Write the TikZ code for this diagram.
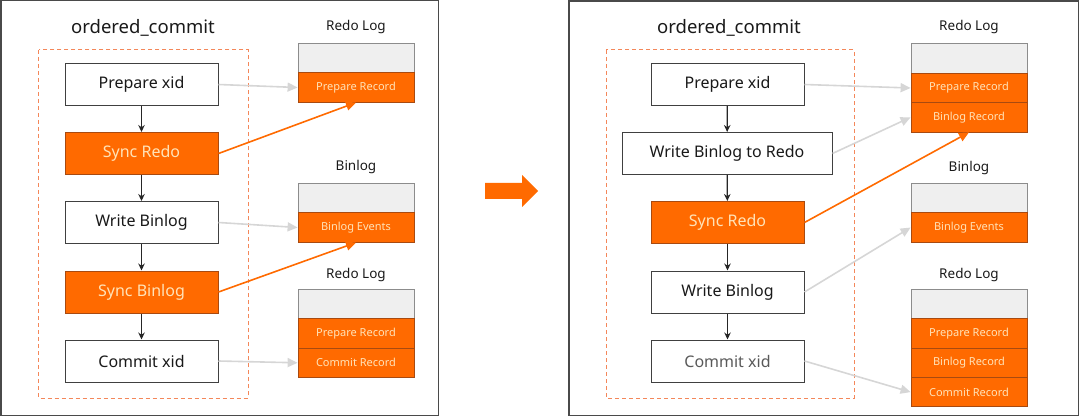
\documentclass[tikz,border=0pt]{standalone}
\usepackage{fontspec}
\setmainfont{Noto Sans}
\usetikzlibrary{arrows.meta}
\definecolor{ali}{HTML}{FF6A00}
\definecolor{aliedge}{HTML}{A84A10}
\definecolor{cream}{HTML}{FFE3B8}
\definecolor{lgray}{HTML}{EFEFEF}
\definecolor{cgray}{HTML}{D6D6D6}
\definecolor{dashc}{HTML}{F4875A}
\definecolor{framec}{HTML}{4A4A4A}
\begin{document}
\begin{tikzpicture}[x=1pt,y=-1pt,
 stepbox/.style={draw=black!75, line width=1pt, fill=white, minimum width=153pt, minimum height=42pt, inner sep=0pt, font=\fontsize{16}{18}\selectfont, text=black!90},
 hot/.style={stepbox, fill=ali, draw=aliedge, text=cream},
 cell/.style={draw=aliedge, fill=ali, line width=0.8pt, minimum width=116pt, minimum height=29.3pt, inner sep=0pt, text=cream, font=\fontsize{11}{13}\selectfont},
 headcell/.style={draw=black!45, fill=lgray, line width=0.8pt, minimum width=116pt, minimum height=29.3pt, inner sep=0pt},
 logtitle/.style={font=\fontsize{13.5}{15}\selectfont, text=black!90},
 maintitle/.style={font=\fontsize{18.5}{21}\selectfont, text=black!90},
 flow/.style={-{Stealth[length=7pt,width=6.5pt]}, line width=1.2pt, black!85},
 ghost/.style={-{Triangle[length=10pt,width=9pt]}, line width=1.6pt, cgray},
 sync/.style={-{Triangle[length=10pt,width=9pt]}, line width=1.6pt, ali},
 dashbox/.style={draw=dashc, line width=1pt, dash pattern=on 4pt off 3pt},
 panel/.style={draw=framec, line width=1.5pt}
]
\useasboundingbox (0,0) rectangle (1080,417);

% ---------- left panel ----------
\draw[panel] (0.75,0.75) rectangle (438.5,415.5);
\node[maintitle] (t1) at (143,28) {ordered\_commit};
\draw[dashbox] (38.7,50) rectangle (248,398);

\node[stepbox] (px1) at (141.5,84.5) {Prepare xid};
\node[hot] (sr1) at (141.5,153.5) {Sync Redo};
\node[stepbox] (wb1) at (141.5,222.5) {Write Binlog};
\node[hot] (sb1) at (141.5,292) {Sync Binlog};
\node[stepbox] (cx1) at (141.5,361) {Commit xid};

\draw[flow] (px1) -- (sr1);
\draw[flow] (sr1) -- (wb1);
\draw[flow] (wb1) -- (sb1);
\draw[flow] (sb1) -- (cx1);

\node[logtitle] (lt1a) at (356,27) {Redo Log};
\node[headcell] (h1a) at (356,58.5) {};
\node[cell] (pr1a) at (356,87.5) {Prepare Record};

\node[logtitle] (lt1b) at (356,167) {Binlog};
\node[headcell] (h1b) at (356,198) {};
\node[cell] (be1b) at (356,227.5) {Binlog Events};

\node[logtitle] (lt1c) at (356,275) {Redo Log};
\node[headcell] (h1c) at (356,304.5) {};
\node[cell] (pr1c) at (356,333.5) {Prepare Record};
\node[cell] (cr1c) at (356,362.8) {Commit Record};

\draw[ghost] (px1.east) -- (pr1a.west);
\draw[sync] (sr1.east) -- (pr1a.south);
\draw[ghost] (wb1.east) -- (be1b.west);
\draw[sync] (sb1.east) -- (be1b.south);
\draw[ghost] (cx1.east) -- (cr1c.west);

% ---------- middle arrow ----------
\fill[ali] (485,183) -- (522,183) -- (522,175) -- (538,191) -- (522,207) -- (522,199) -- (485,199) -- cycle;

% ---------- right panel ----------
\draw[panel] (569,1) rectangle (1078.5,415.5);
\node[maintitle] (t2) at (729,28) {ordered\_commit};
\draw[dashbox] (606,50) rectangle (854,398);

\node[stepbox] (px2) at (727.5,84.5) {Prepare xid};
\node[stepbox, minimum width=210pt] (wr2) at (727,153.5) {Write Binlog to Redo};
\node[hot] (sr2) at (727.5,222.5) {Sync Redo};
\node[stepbox] (wb2) at (727.5,292) {Write Binlog};
\node[stepbox, text=black!65] (cx2) at (727.5,361) {Commit xid};

\draw[flow] (px2) -- (wr2);
\draw[flow] (wr2) -- (sr2);
\draw[flow] (sr2) -- (wb2);
\draw[flow] (wb2) -- (cx2);

\node[logtitle] (lt2a) at (969,27) {Redo Log};
\node[headcell] (h2a) at (969,58.5) {};
\node[cell] (pr2a) at (969,88) {Prepare Record};
\node[cell] (br2a) at (969,117.3) {Binlog Record};

\node[logtitle] (lt2b) at (969,168) {Binlog};
\node[headcell] (h2b) at (969,198) {};
\node[cell] (be2b) at (969,227.5) {Binlog Events};

\node[logtitle] (lt2c) at (969,275) {Redo Log};
\node[headcell] (h2c) at (969,304.5) {};
\node[cell] (pr2c) at (969,333.5) {Prepare Record};
\node[cell] (br2c) at (969,362.8) {Binlog Record};
\node[cell] (cr2c) at (969,392.1) {Commit Record};

\draw[ghost] (px2.east) -- (pr2a.west);
\draw[ghost] (wr2.east) -- (br2a.west);
\draw[sync] (sr2.east) -- (br2a.south);
\draw[ghost] (wb2.east) -- (be2b.west);
\draw[ghost] (cx2.east) -- (cr2c.west);
\end{tikzpicture}
\end{document}
